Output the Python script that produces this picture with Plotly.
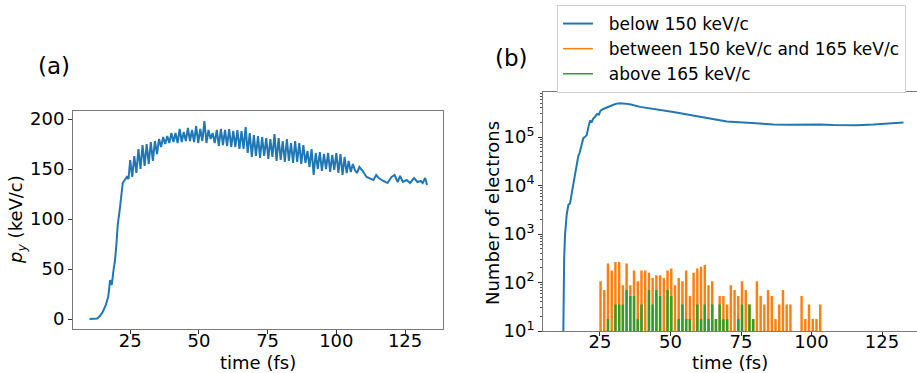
import plotly.graph_objects as go

# ---------------- Panel (a): p_y vs time ----------------
time_a_rise = [10.2, 11, 12, 13, 14, 15, 16, 17, 17.7, 18.3, 19, 19.5, 20, 20.5, 21.1, 21.7, 22.3, 23, 23.8, 24.4]
py_rise = [0, 0, 0, 0.5, 3, 7, 13, 22, 39, 34, 50, 59, 75, 95, 107, 122, 136, 139, 142, 140]

time_a_osc = [25.0, 25.75, 26.5, 27.25, 28.0, 28.75, 29.5, 30.25, 31.0, 31.75, 32.5, 33.25, 34.0, 34.75,
              35.5, 36.25, 37.0, 37.75, 38.5, 39.25, 40.0, 40.75, 41.5, 42.25, 43.0, 43.75, 44.5, 45.25,
              46.0, 46.75, 47.5, 48.25, 49.0, 49.75, 50.5, 51.25, 52.0, 52.75, 53.5, 54.25, 55.0, 55.75,
              56.5, 57.25, 58.0, 58.75, 59.5, 60.25, 61.0, 61.75, 62.5, 63.25, 64.0, 64.75, 65.5, 66.25,
              67.0, 67.75, 68.5, 69.25, 70.0, 70.75, 71.5, 72.25, 73.0, 73.75, 74.5, 75.25, 76.0, 76.75,
              77.5, 78.25, 79.0, 79.75, 80.5, 81.25, 82.0, 82.75, 83.5, 84.25, 85.0, 85.75, 86.5, 87.25,
              88.0, 88.75, 89.5, 90.25, 91.0, 91.75, 92.5, 93.25, 94.0, 94.75, 95.5, 96.25, 97.0, 97.75,
              98.5, 99.25, 100.0, 100.75, 101.5, 102.25, 103.0, 103.75, 104.5, 105.25, 106.0, 106.75, 107.5]
py_osc = [159, 142, 163, 146, 170, 150, 174, 153, 175, 155, 177, 158, 178, 165,
          180, 172, 182, 175, 183, 176, 186, 177, 186, 176, 190, 177, 187, 178,
          191, 178, 189, 177, 193, 176, 190, 178, 198, 176, 189, 180, 186, 176,
          189, 173, 190, 174, 189, 173, 190, 172, 188, 172, 189, 170, 188, 170,
          192, 166, 186, 162, 184, 163, 183, 161, 182, 163, 181, 160, 180, 162,
          185, 158, 181, 159, 178, 157, 180, 158, 176, 156, 178, 157, 176, 155,
          174, 156, 168, 152, 170, 144, 166, 150, 167, 148, 165, 150, 166, 147,
          164, 149, 166, 146, 165, 144, 162, 146, 158, 147, 155, 149, 146]

time_a_tail = [108.4, 109.6, 111, 112.3, 113.5, 114.5, 115.4, 117.1, 118.6, 120.1, 121.2, 122.3, 123.2,
               124.2, 125.6, 126.8, 128.3, 129.5, 130.7, 131.4, 132.3, 133]
py_tail = [152, 148, 142, 140, 139, 144, 141, 138, 136, 142, 144, 137, 143,
           137, 139, 136, 141, 137, 138, 136, 141, 134]

# ---------------- Panel (b): number of electrons ----------------
time_b = [11.9, 12.05, 12.3, 12.6, 13.2, 13.8, 14.4, 15.0, 15.5, 16.2, 16.7, 17.3, 17.8, 18.5, 19.1, 19.6,
          20.3, 21.0, 21.5, 22.0, 22.6, 23.2, 24.0, 24.6, 25.2, 26.2, 27.0, 28.0, 29.0, 30.0, 31.0, 32.1,
          34, 36, 39.2, 42, 45, 48, 51, 55, 59, 62.8, 67, 70, 74.6, 80, 86.5, 92, 98.3, 103, 107.7, 111,
          116, 122, 127, 132.6]
n_below = [3, 55, 300, 950, 2500, 4000, 4300, 7000, 10300, 16000, 22000, 40000, 48000, 69000, 95000, 100000,
           110000, 170000, 220000, 200000, 240000, 260000, 300000, 290000, 350000, 380000, 400000, 430000,
           450000, 470000, 490000, 500000,
           490000, 470000, 420000, 400000, 370000, 350000, 330000, 300000, 270000, 245000, 225000, 210000,
           200000, 190000, 182000, 180000, 182000, 182000, 178000, 175000,
           176000, 182000, 190000, 200000]

time_bins = [25.2, 26.52, 27.84, 29.16, 30.48, 31.8, 33.12, 34.44, 35.76, 37.08, 38.4, 39.72, 41.04, 42.36,
             43.68, 45.0, 46.32, 47.64, 48.96, 50.28, 51.6, 52.92, 54.24, 55.56, 56.88, 58.2, 59.52, 60.84,
             62.16, 63.48, 64.8, 66.12, 67.44, 68.76, 70.08, 71.4, 72.72, 74.04, 75.36, 76.68, 78.0, 79.32,
             80.64, 81.96, 83.28, 84.6, 85.92, 87.24, 88.56, 89.88, 91.2, 92.52, 93.84, 95.16, 96.48, 97.8,
             99.12, 100.44, 101.76, 103.08]
n_between = [102, 68, 238, 170, 255, 255, 85, 238, 85, 170, 102, 170, 170, 153,
             119, 136, 136, 119, 170, 187, 85, 119, 102, 170, 51, 153, 187, 204,
             221, 85, 102, 17, 51, 51, 34, 85, 68, 51, 102, 68, 34, 17,
             102, 51, 34, 68, 51, 17, 34, 68, 34, 34, 0, 0, 51, 17,
             34, 17, 17, 34]
n_above = [0, 0, 17, 0, 34, 34, 34, 68, 51, 51, 17, 34, 0, 68,
           34, 68, 51, 0, 68, 51, 0, 17, 34, 17, 17, 0, 34, 17,
           34, 17, 34, 17, 34, 17, 17, 0, 0, 17, 34, 0, 34, 17,
           0, 0, 0, 0, 0, 0, 0, 0, 0, 0, 0, 0, 0, 0,
           0, 0, 0, 0]

legend_names = ["below 150 keV/c", "between 150 keV/c and 165 keV/c", "above 165 keV/c"]
colors = ["#1f77b4", "#ff7f0e", "#2ca02c"]

FONT = "DejaVu Sans"
W, H = 917, 373


def spikes(ts, vs, half=0.17, floor=1.0):
    xs, ys = [], []
    for t, v in zip(ts, vs):
        if v > 0:
            xs += [t - half, t - half, t + half, t + half, None]
            ys += [floor, v, v, floor, None]
    return xs, ys


fig = go.Figure()

fig.add_trace(go.Scatter(x=time_a_rise + time_a_osc + time_a_tail, y=py_rise + py_osc + py_tail,
                         mode="lines", line=dict(color=colors[0], width=2), showlegend=False,
                         xaxis="x", yaxis="y"))

pad = "\u00a0\u00a0"
fig.add_trace(go.Scatter(x=time_b, y=n_below, mode="lines", name=pad + legend_names[0],
                         line=dict(color=colors[0], width=2), xaxis="x2", yaxis="y2"))
xo, yo = spikes(time_bins, n_between)
fig.add_trace(go.Scatter(x=xo, y=yo, mode="lines", name=pad + legend_names[1],
                         line=dict(color=colors[1], width=1.5), xaxis="x2", yaxis="y2"))
xg, yg = spikes(time_bins, n_above)
fig.add_trace(go.Scatter(x=xg, y=yg, mode="lines", name=pad + legend_names[2],
                         line=dict(color=colors[2], width=1.5), xaxis="x2", yaxis="y2"))

spine = "#7a7a7a"
tickfont = dict(family=FONT, size=18, color="black")
common = dict(showgrid=False, zeroline=False, showline=True, linecolor=spine, linewidth=1,
              ticks="outside", ticklen=4, tickcolor="#333", tickfont=tickfont, automargin=False)

fig.update_layout(
    width=W, height=H, margin=dict(l=0, r=0, t=0, b=0, autoexpand=False),
    paper_bgcolor="white", plot_bgcolor="white",
    font=dict(family=FONT, color="black"),
    xaxis=dict(domain=[73 / W, 443 / W], range=[4.2, 138.8], anchor="y", mirror=True,
               tickvals=[25, 50, 75, 100, 125], ticklabelstandoff=-9, **common),
    yaxis=dict(domain=[(H - 329) / H, (H - 111) / H], range=[-10, 208], anchor="x", mirror=True,
               tickvals=[0, 50, 100, 150, 200], **common),
    xaxis2=dict(domain=[543 / W, 1.0], range=[4.8, 137.4], anchor="y2", mirror=True,
                tickvals=[25, 50, 75, 100, 125], ticklabelstandoff=-10, **common),
    yaxis2=dict(domain=[(H - 331) / H, (H - 92) / H], type="log", range=[1, 5.93], anchor="x2",
                tickvals=[10, 100, 1000, 10000, 100000],
                ticktext=["10<sup>1</sup>", "10<sup>2</sup>", "10<sup>3</sup>", "10<sup>4</sup>", "10<sup>5</sup>"],
                minor=dict(ticks="outside", ticklen=2, tickcolor="#555", dtick="D1"),
                **common),
    legend=dict(x=557 / W, y=1 - 5 / H, xanchor="left", yanchor="top",
                bgcolor="white", bordercolor="#d0d0d0", borderwidth=1,
                font=dict(family=FONT, size=17, color="black"), tracegroupgap=0),
    showlegend=True,
)

ann = [
    dict(text="(a)", x=54, y=66, size=23, angle=0),
    dict(text="(b)", x=511, y=58, size=23, angle=0),
    dict(text="time (fs)", x=258, y=362, size=18, angle=0),
    dict(text="time (fs)", x=730, y=362, size=18, angle=0),
    dict(text="<i>p</i><sub><i>y</i></sub> (keV/c)", x=17, y=220, size=18, angle=-90),
    dict(text="Number of electrons", x=492, y=213, size=18, angle=-90),
]
for a in ann:
    fig.add_annotation(text=a["text"], x=a["x"] / W, y=1 - a["y"] / H, xref="paper", yref="paper",
                       xanchor="center", yanchor="middle", showarrow=False, textangle=a["angle"],
                       font=dict(family=FONT, size=a["size"], color="black"))

fig.write_html("out.html")
